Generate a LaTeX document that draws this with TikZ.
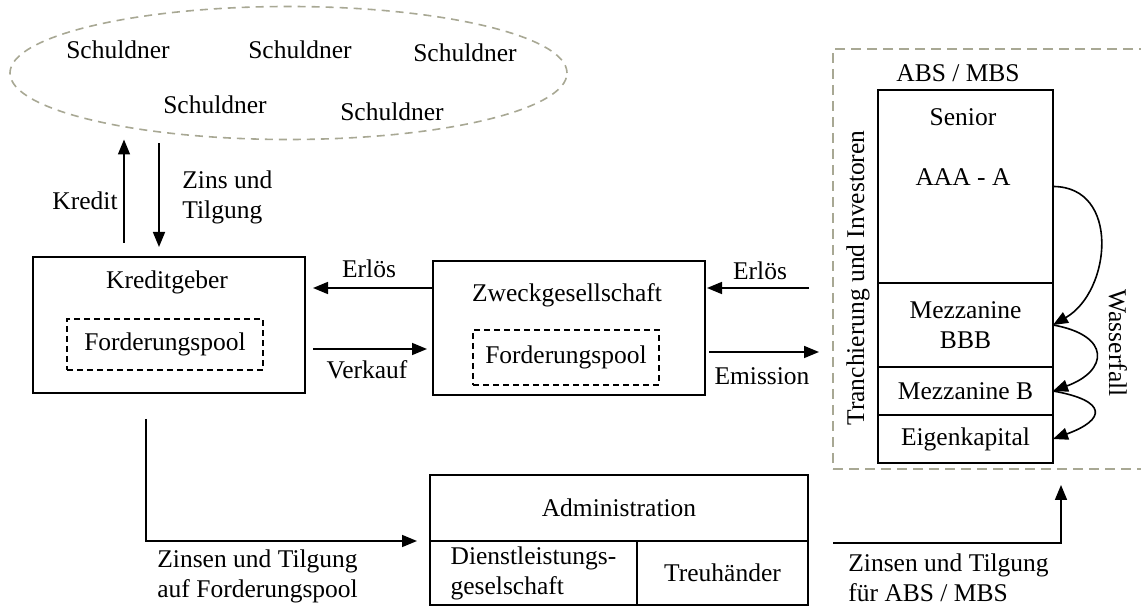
\documentclass[tikz,border=0pt]{standalone}
\usepackage{fontspec}
\setmainfont{Liberation Serif}
\usetikzlibrary{arrows.meta,positioning,shapes.geometric}
\definecolor{framegrey}{RGB}{168,168,148}

\begin{document}
\begin{tikzpicture}[x=0.5pt, y=-0.5pt,
    font=\fontsize{12.75}{15}\selectfont,
    box/.style={draw=black, line width=1pt, inner sep=0pt, outer sep=0pt},
    pool/.style={draw=black, line width=1.2pt, dash pattern=on 3pt off 2pt, inner sep=0pt},
    flow/.style={-{Triangle[length=7.5pt,width=6pt]}, line width=0.8pt},
    txt/.style={inner sep=0pt},
    greydash/.style={draw=framegrey, line width=0.8pt, dash pattern=on 4pt off 3pt, inner sep=0pt, outer sep=0pt}]
  \useasboundingbox (0,0) rectangle (1141,608);
  %
  \node [greydash, ellipse, minimum width=278.5pt, minimum height=66.5pt] (debtors) at (288.5,73) {};
  \node [txt] (s1) at (118,50) {Schuldner};
  \node [txt] (s2) at (300,50) {Schuldner};
  \node [txt] (s3) at (465,53) {Schuldner};
  \node [txt] (s4) at (215,105) {Schuldner};
  \node [txt] (s5) at (392,112) {Schuldner};
  %
  \node [box, minimum width=136pt, minimum height=68pt] (kg) at (169,325) {};
  \node [txt] (kgtitle) at (167,282) {Kreditgeber};
  \node [pool, minimum width=98pt, minimum height=25.5pt] (kgpool) at (165,344.5) {Forderungspool};
  %
  \node [box, minimum width=136pt, minimum height=67pt] (spv) at (569,328) {};
  \node [txt] (spvtitle) at (567,295) {Zweckgesellschaft};
  \node [pool, minimum width=93pt, minimum height=27.5pt] (spvpool) at (566,357.5) {Forderungspool};
  %
  \node [greydash, line width=1pt, dash pattern=on 5pt off 3pt, minimum width=170pt, minimum height=210pt] (frame) at (1003,259) {};
  \node [txt] (abs) at (958,73) {ABS / MBS};
  \node [box, minimum width=87.5pt, minimum height=96.5pt] (senior) at (965.5,186.5) {};
  \node [box, minimum width=87.5pt, minimum height=42pt, align=center, below=0pt of senior] (mezz) {Mezzanine\\BBB};
  \node [box, minimum width=87.5pt, minimum height=24pt, below=0pt of mezz] (mezzb) {Mezzanine B};
  \node [box, minimum width=87.5pt, minimum height=24pt, below=0pt of mezzb] (equity) {Eigenkapital};
  \node [txt] (senlab) at (963,117) {Senior};
  \node [txt] (aaa) at (963,177) {AAA - A};
  \node [txt, rotate=90] (tranch) at (858,278) {Tranchierung und Investoren};
  \node [txt, rotate=-90] (fall) at (1118,343) {Wasserfall};
  \draw [flow] (senior.east) to [out=0, in=30, looseness=1.25] (mezz.east);
  \draw [flow] (mezz.east) to [out=-10, in=20, looseness=2.3] (mezzb.east);
  \draw [flow] (mezzb.east) to [out=-10, in=20, looseness=3] (equity.east);
  %
  \node [box, minimum width=189pt, minimum height=33pt] (admin) at (619,508) {Administration};
  \node [box, minimum width=103.5pt, minimum height=32pt, align=left, below=0pt of admin.south west, anchor=north west] (service) {Dienstleistungs-\\geselschaft};
  \node [box, minimum width=85.5pt, minimum height=32pt, right=0pt of service] (trustee) {Treuhänder};
  %
  \draw [flow] ([xshift=-22.5pt,yshift=7pt]kg.north) -- ([xshift=-22.5pt]kg.north |- debtors.south);
  \draw [flow] ([xshift=-5pt,yshift=-2pt]kg.north |- debtors.south) -- ([xshift=-5pt,yshift=5pt]kg.north);
  \node [txt, anchor=east] (kredit) at (118,201) {Kredit};
  \node [txt, anchor=west, align=left] (zins) at (182,197.5) {Zins und\\Tilgung};
  %
  \draw [flow, shorten >=4pt] ([yshift=20pt]spv.west) -- ([yshift=20pt]spv.west -| kg.east);
  \node [txt] (erl1) at (369,269) {Erlös};
  \draw [flow, shorten <=4pt, shorten >=3pt] ([yshift=-12pt]kg.east) -- ([yshift=-12pt]kg.east -| spv.west);
  \node [txt] (verk) at (367,370) {Verkauf};
  \draw [flow, shorten <=12pt, shorten >=1pt] ([yshift=20pt]spv.east -| frame.west) -- ([yshift=20pt]spv.east);
  \node [txt] (erl2) at (760,271) {Erlös};
  \draw [flow, shorten <=2pt, shorten >=7pt] ([yshift=-12pt]spv.east) -- ([yshift=-12pt]spv.east -| frame.west);
  \node [txt] (emis) at (762,376) {Emission};
  %
  \draw [flow, shorten >=6.5pt] ([xshift=-11.5pt,yshift=-13pt]kg.south) |- (service.north west);
  \node [txt, anchor=west, align=left] (zt1) at (157,576) {Zinsen und Tilgung\\auf Forderungspool};
  \draw [flow, shorten >=8pt] ([xshift=12.5pt,yshift=-1pt]trustee.north east) -| ([xshift=4pt]equity.south east |- frame.south);
  \node [txt, anchor=west, align=left] (zt2) at (848,578) {Zinsen und Tilgung\\für ABS / MBS};
\end{tikzpicture}
\end{document}
